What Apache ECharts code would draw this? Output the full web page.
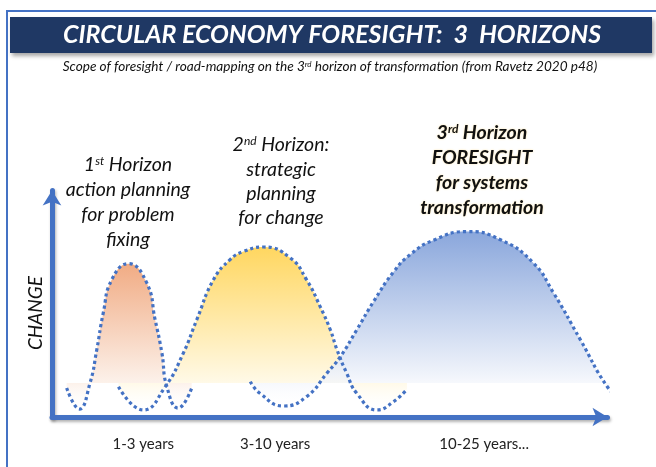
<!DOCTYPE html>
<html>
<head>
<meta charset="utf-8">
<title>Circular economy foresight: 3 horizons</title>
<script src="https://cdn.jsdelivr.net/npm/echarts@6.0.0/dist/echarts.min.js"></script>
<style>
  html, body { margin: 0; padding: 0; background: #fff; }
  #chart { width: 656px; height: 467px; }
</style>
</head>
<body>
<div id="chart"></div>
<script>
// curve points: [time, change]
const horizon1 = [
  [2.6, 12.4], [4.85, 3.4], [6.75, 14.5], [7.94, 28.6], [9.1, 44.4], [10.6, 58.5],
  [13.55, 65.4], [16.8, 57.3], [18.3, 41.5], [19.5, 27.4], [20.4, 12.8], [22.4, 3.8], [24.8, 12.4]
];
const horizon2 = [
  [11.8, 12.9], [16.2, 3.0], [20.1, 12.9], [23.3, 27.2], [25.7, 41.5], [28.65, 58.5],
  [31.6, 67.1], [34.0, 70.6], [37.5, 72.5], [42.3, 67.8], [45.2, 58.5], [47.6, 47.1],
  [49.4, 37.2], [50.6, 28.6], [52.3, 18.7], [54.1, 10.1], [57.7, 3.0], [60.6, 6.5], [63.0, 11.8]
];
const horizon3 = [
  [35.2, 15.1], [36.9, 10.1], [41.1, 4.7], [45.2, 8.7], [48.8, 18.7], [51.2, 25.8],
  [54.1, 37.2], [57.1, 49.3], [60.6, 61.8], [63.6, 69.3], [67.7, 75.4], [73.7, 79.1],
  [79.6, 75.6], [85.4, 65.8], [89.0, 53.0], [93.8, 32.9], [98.6, 12.8], [101.4, 6.4]
];
const baseline = 14.5;
const xMax = 98.6;
const yMax = 96.6;

const xTickValues = [16.2, 39.6, 76.7];
const xTickLabels = ['1-3 years', '3-10 years', '10-25 years...'];

const titleText = 'CIRCULAR ECONOMY FORESIGHT:  3  HORIZONS';
const subtitleText = 'Scope of foresight / road-mapping on the 3{sup|rd} horizon of transformation (from Ravetz 2020 p48)';
const horizon1Lines = ['1{sup|st} Horizon', 'action planning', 'for problem', 'fixing'];
const horizon2Lines = ['2{sup|nd} Horizon:', 'strategic', 'planning', 'for change'];
const horizon3Lines = ['3{sup|rd} Horizon', 'FORESIGHT', 'for systems', 'transformation'];

const FONT = 'Lato, "Open Sans", sans-serif';
const BLUE = '#4472C4';

const chart = echarts.init(document.getElementById('chart'), null, { renderer: 'canvas' });

function axisLine() {
  return {
    show: true,
    symbol: ['none', 'arrow'],
    symbolSize: [14, 15],
    lineStyle: {
      color: BLUE,
      width: 5,
      shadowColor: 'rgba(0,0,0,0.3)',
      shadowBlur: 3,
      shadowOffsetX: 1,
      shadowOffsetY: 2
    }
  };
}

function hump(name, data, top, bottom) {
  return {
    type: 'line',
    name: name,
    data: data,
    smooth: 0.5,
    symbol: 'none',
    clip: false,
    lineStyle: { color: BLUE, width: 3.2, type: [3.2, 3] },
    areaStyle: {
      origin: baseline,
      opacity: 0.9,
      color: new echarts.graphic.LinearGradient(0, 0, 0, 1, [
        { offset: 0, color: top },
        { offset: 0.82, color: bottom },
        { offset: 1, color: 'rgba(255,255,255,0.2)' }
      ])
    }
  };
}

function textLines(lines, x, ys, size, weight, extra) {
  return lines.map((line, i) => ({
    type: 'text',
    x: x,
    y: ys[i],
    style: Object.assign({
      text: line,
      fill: '#111',
      fontFamily: FONT,
      fontSize: size,
      fontStyle: 'italic',
      fontWeight: weight,
      textAlign: 'center',
      textVerticalAlign: 'middle',
      rich: {
        sup: {
          fontFamily: FONT,
          fontSize: Math.round(size * 0.6),
          fontStyle: 'italic',
          fontWeight: weight,
          verticalAlign: 'top',
          lineHeight: size,
          fill: '#111'
        }
      }
    }, extra || {})
  }));
}

const option = {
  backgroundColor: '#fff',
  animation: false,
  grid: { left: 52, right: 48.5, top: 190.5, bottom: 50, containLabel: false, outerBoundsMode: 'none' },
  xAxis: {
    type: 'value',
    min: 0,
    max: xMax,
    axisLine: axisLine(),
    axisTick: { show: false },
    splitLine: { show: false },
    axisLabel: {
      customValues: xTickValues,
      formatter: (v) => xTickLabels[xTickValues.indexOf(v)],
      margin: 20,
      fontSize: 15,
      fontFamily: FONT,
      color: '#222'
    }
  },
  yAxis: {
    type: 'value',
    min: 0,
    max: yMax,
    axisLine: axisLine(),
    axisTick: { show: false },
    splitLine: { show: false },
    axisLabel: { show: false }
  },
  series: [
    hump('1st horizon', horizon1, '#EFA276', '#FCF0E8'),
    hump('2nd horizon', horizon2, '#FFD24E', '#FFF8E2'),
    hump('3rd horizon', horizon3, '#7D9DD8', '#EEF2FA')
  ],
  graphic: [
    {
      type: 'polyline',
      shape: { points: [[7, 467], [7, 11], [656, 11]] },
      style: { stroke: BLUE, lineWidth: 2, fill: null }
    },
    {
      type: 'rect',
      shape: { x: 10, y: 17, width: 642, height: 36 },
      style: {
        fill: '#1F3864',
        shadowColor: 'rgba(0,0,0,0.35)',
        shadowBlur: 4,
        shadowOffsetX: 2,
        shadowOffsetY: 3
      }
    },
    {
      type: 'text',
      x: 332,
      y: 35,
      style: {
        text: titleText,
        fill: '#fff',
        fontFamily: FONT,
        fontSize: 25,
        fontStyle: 'italic',
        fontWeight: 'bold',
        textAlign: 'center',
        textVerticalAlign: 'middle'
      }
    },
    ...textLines([subtitleText], 330, [67], 13.6, 'normal'),
    ...textLines(horizon1Lines, 128, [165, 190, 215, 240], 19.5, 'normal'),
    ...textLines(horizon2Lines, 281, [145, 170, 194, 218], 19.5, 'normal'),
    ...textLines(horizon3Lines, 482, [133, 158, 183, 208], 19.5, 'bold', {
      textShadowColor: 'rgba(255,200,60,0.45)',
      textShadowBlur: 2
    }),
    {
      type: 'text',
      x: 36,
      y: 313,
      rotation: Math.PI / 2,
      style: {
        text: 'CHANGE',
        fill: '#111',
        fontFamily: FONT,
        fontSize: 19,
        fontStyle: 'italic',
        textAlign: 'center',
        textVerticalAlign: 'middle'
      }
    }
  ]
};

chart.setOption(option);
</script>
</body>
</html>
